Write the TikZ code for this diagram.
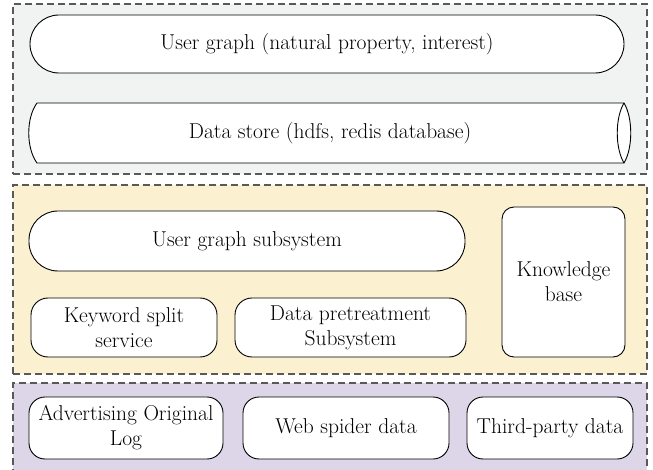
\documentclass[tikz,border=0pt]{standalone}
\definecolor{layergray}{RGB}{241,242,242}
\definecolor{layeryellow}{RGB}{251,241,208}
\definecolor{layerviolet}{RGB}{220,214,232}
\tikzset{
  layer/.style={draw=black!65, line width=1.1pt, dash pattern=on 7pt off 4pt, inner sep=0pt},
  unit/.style={draw, line width=0.9pt, fill=white, align=center, inner sep=0pt},
}
\begin{document}
\begin{tikzpicture}[x=1pt, y=-1pt, font=\fontsize{21.5}{25}\selectfont]
  \clip (0,0) rectangle (653,470);
  \fill [white] (0,0) rectangle (653,470);
  \node [layer, fill=layergray, minimum width=634pt, minimum height=170pt] (toplayer) at (330,89) {};
  \node [layer, fill=layeryellow, minimum width=634pt, minimum height=189pt] (midlayer) at (330,279.5) {};
  \node [layer, fill=layerviolet, minimum width=634pt, minimum height=120pt] (baselayer) at (330,443) {};

  \node [unit, rounded corners=29pt, minimum width=594pt, minimum height=58pt] (usergraph) at (327,44) {User graph (natural property, interest)};
  \draw [line width=0.9pt, fill=white] (37,103) -- (624,103) .. controls (633,118) and (633,148) .. (624,163)
    -- (37,163) .. controls (26,148) and (26,118) .. (37,103) -- cycle;
  \draw [line width=0.9pt] (624,103) .. controls (615,118) and (615,148) .. (624,163);
  \node (datastore) at (330,133) {Data store (hdfs, redis database)};

  \node [unit, rounded corners=29pt, minimum width=436pt, minimum height=60pt] (ugsub) at (247,241) {User graph subsystem};
  \node [unit, rounded corners=12pt, minimum width=123pt, minimum height=150pt] (kbase) at (563.5,282) {Knowledge\\base};
  \node [unit, rounded corners=17pt, minimum width=186pt, minimum height=59pt] (kwsplit) at (124,327.5) {Keyword split\\service};
  \node [unit, rounded corners=17pt, minimum width=231pt, minimum height=59pt] (pretreat) at (350.5,327.5) {Data pretreatment\\Subsystem};

  \node [unit, rounded corners=16pt, minimum width=194pt, minimum height=62pt] (adlog) at (126,428) {Advertising Original\\Log};
  \node [unit, rounded corners=16pt, minimum width=206pt, minimum height=62pt] (spider) at (346,428) {Web spider data};
  \node [unit, rounded corners=16pt, minimum width=166pt, minimum height=62pt] (thirdparty) at (550,428) {Third-party data};
\end{tikzpicture}
\end{document}
